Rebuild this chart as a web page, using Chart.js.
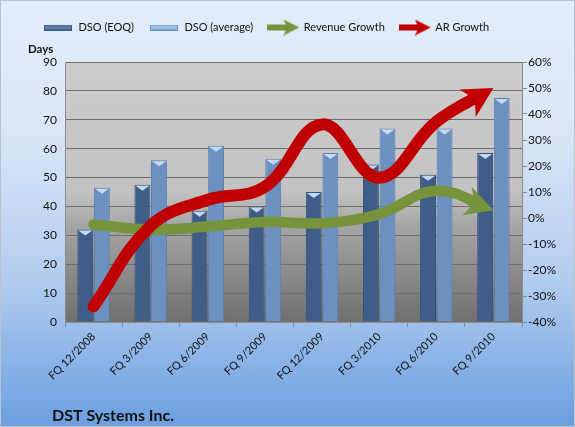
<!DOCTYPE html>
<html>
<head>
<meta charset="utf-8">
<script src="https://cdn.jsdelivr.net/npm/chart.js@4.4.0/dist/chart.umd.min.js"></script>
<style>
  html, body { margin: 0; padding: 0; }
  #quadro {
    width: 575px; height: 427px; box-sizing: border-box;
    border: 1px solid #b9c3d0;
    background: linear-gradient(#e3ecf9 0%, #dbe6f7 30%, #b3cdef 65%, #6b9fe0 100%);
  }
</style>
</head>
<body>
<div id="quadro"><canvas id="grafico-dso"></canvas></div>
<script>
// Dados (DSO em dias, crescimento em %)
const trimestres = ["FQ 12/2008", "FQ 3/2009", "FQ 6/2009", "FQ 9/2009",
                    "FQ 12/2009", "FQ 3/2010", "FQ 6/2010", "FQ 9/2010"];
const dsoEoq = [32, 47.5, 38.5, 40, 45, 54.5, 51, 58.5];
const dsoMedia = [46.5, 56, 61, 56.5, 58.5, 67, 67, 77.5];
const crescReceita = [-2.5, -4.5, -3.3, -1.5, -2, 1.5, 10.5, 3];
const crescAR = [-34, -3, 7, 12, 36, 15.5, 37, 50];
const eixoDias = [0, 90, 10];      // min, max, passo
const eixoPct = [-40, 60, 10];

const fonte = "Lato, 'Liberation Sans', sans-serif";

// marcadores da legenda (desenhados num canvas pequeno)
function marcaBarra(cor, borda) {
  const c = document.createElement("canvas");
  c.width = 28; c.height = 6;
  const g = c.getContext("2d");
  g.fillStyle = cor; g.fillRect(0, 0, 28, 6);
  g.strokeStyle = borda; g.strokeRect(0.5, 0.5, 27, 5);
  return c;
}
function marcaSeta(cor) {
  const c = document.createElement("canvas");
  c.width = 32; c.height = 16;
  const g = c.getContext("2d");
  g.fillStyle = cor;
  g.fillRect(0, 5, 20, 6);
  g.beginPath();
  g.moveTo(32, 8); g.lineTo(16, 0); g.lineTo(20, 8); g.lineTo(16, 16);
  g.closePath(); g.fill();
  return c;
}

// ponta de seta no fim da linha
function geoSeta(chart, i) {
  const ds = chart.data.datasets[i];
  const pts = chart.getDatasetMeta(i).data;
  const p = pts[pts.length - 1];
  let ax = p.cp1x, ay = p.cp1y;
  if (ax === undefined || (ax === p.x && ay === p.y)) { ax = pts[pts.length - 2].x; ay = pts[pts.length - 2].y; }
  let dx = p.x - ax, dy = p.y - ay;
  const len = Math.hypot(dx, dy) || 1;
  dx /= len; dy /= len;
  return { p, dx, dy, L: ds.seta.comp, W: ds.seta.larg };
}

const pluginSeta = {
  id: "seta",
  beforeDatasetDraw(chart, args) {
    const ds = chart.data.datasets[args.index];
    if (!ds.seta) return;
    const s = geoSeta(chart, args.index);
    const qx = s.p.x - s.dx * s.L * 0.6, qy = s.p.y - s.dy * s.L * 0.6;
    const nx = -s.dy, ny = s.dx, B = 3000;
    const ctx = chart.ctx;
    ctx.save();
    ctx.beginPath();
    ctx.moveTo(qx + nx * B, qy + ny * B);
    ctx.lineTo(qx - nx * B, qy - ny * B);
    ctx.lineTo(qx - nx * B - s.dx * B, qy - ny * B - s.dy * B);
    ctx.lineTo(qx + nx * B - s.dx * B, qy + ny * B - s.dy * B);
    ctx.closePath();
    ctx.clip();
  },
  afterDatasetDraw(chart, args) {
    const ds = chart.data.datasets[args.index];
    if (!ds.seta) return;
    const ctx = chart.ctx;
    ctx.restore();
    const s = geoSeta(chart, args.index);
    const nx = -s.dy, ny = s.dx;
    const bx = s.p.x - s.dx * s.L, by = s.p.y - s.dy * s.L;
    const mx = s.p.x - s.dx * s.L * 0.72, my = s.p.y - s.dy * s.L * 0.72;
    ctx.save();
    ctx.fillStyle = ds.borderColor;
    ctx.beginPath();
    ctx.moveTo(s.p.x, s.p.y);
    ctx.lineTo(bx + nx * s.W / 2, by + ny * s.W / 2);
    ctx.lineTo(mx, my);
    ctx.lineTo(bx - nx * s.W / 2, by - ny * s.W / 2);
    ctx.closePath();
    ctx.fill();
    ctx.restore();
  }
};

// fundo da área do gráfico, topo das barras e textos extras
const pluginFundo = {
  id: "fundo",
  afterInit(chart) {
    // espaço extra entre a legenda e a área do gráfico
    const leg = chart.legend;
    const fitOrig = leg.fit;
    leg.fit = function () { fitOrig.call(this); this.height += 19; };
  },
  beforeDraw(chart) {
    const a = chart.chartArea, ctx = chart.ctx;
    const g = ctx.createLinearGradient(0, a.top, 0, a.bottom);
    g.addColorStop(0, "#cdcdcd");
    g.addColorStop(0.5, "#c2c2c2");
    g.addColorStop(0.62, "#a7a7a7");
    g.addColorStop(1, "#6f6f6f");
    ctx.save();
    ctx.fillStyle = g;
    ctx.fillRect(a.left, a.top, a.right - a.left, a.bottom - a.top);
    ctx.restore();
    // legenda um pouco à esquerda, como no original
    chart.legend.right = chart.legend.left + 530;
  },
  afterDatasetDraw(chart, args) {
    const ds = chart.data.datasets[args.index];
    if (ds.type === "line") return;
    const ctx = chart.ctx;
    ctx.save();
    ctx.fillStyle = "#c4daf2";
    chart.getDatasetMeta(args.index).data.forEach(b => {
      const h = b.width / 2;
      ctx.beginPath();
      ctx.moveTo(b.x - h + 1, b.y + 1);
      ctx.lineTo(b.x + h - 1, b.y + 1);
      ctx.lineTo(b.x, b.y + 6);
      ctx.closePath();
      ctx.fill();
    });
    ctx.restore();
  },
  afterDraw(chart) {
    const ctx = chart.ctx;
    ctx.save();
    ctx.fillStyle = "#111";
    ctx.font = "bold 11.5px " + fonte;
    ctx.fillText("Days", 27, 48);
    ctx.font = "bold 16px " + fonte;
    ctx.fillText("DST Systems Inc.", 51, 415);
    ctx.restore();
  }
};

const ctx = document.getElementById("grafico-dso").getContext("2d");

const graficoDso = new Chart(ctx, {
  data: {
    labels: trimestres,
    datasets: [
      {
        type: "bar", label: "DSO (EOQ)", data: dsoEoq, yAxisID: "y",
        backgroundColor: "#3f5d87", borderColor: "#34507a", borderWidth: 1,
        categoryPercentage: 0.58, barPercentage: 0.96, order: 2,
        pointStyle: marcaBarra("#5b7aa6", "#3e5b85")
      },
      {
        type: "bar", label: "DSO (average)", data: dsoMedia, yAxisID: "y",
        backgroundColor: "#6c91c1", borderColor: "#5a7fb0", borderWidth: 1,
        categoryPercentage: 0.58, barPercentage: 0.96, order: 3,
        pointStyle: marcaBarra("#9dc0ea", "#6a8fc0")
      },
      {
        type: "line", label: "Revenue Growth", data: crescReceita, yAxisID: "y1",
        borderColor: "#77933c", borderWidth: 10.5, tension: 0.4, pointRadius: 0,
        borderCapStyle: "round", order: 1, seta: { comp: 28, larg: 30 },
        pointStyle: marcaSeta("#77933c")
      },
      {
        type: "line", label: "AR Growth", data: crescAR, yAxisID: "y1",
        borderColor: "#c00000", borderWidth: 12, tension: 0.4, pointRadius: 0,
        borderCapStyle: "round", order: 0, seta: { comp: 30, larg: 32 },
        pointStyle: marcaSeta("#c00000")
      }
    ]
  },
  options: {
    responsive: true,
    maintainAspectRatio: false,
    animation: false,
    layout: { padding: { top: 6, left: 0, right: 0, bottom: 0 } },
    plugins: {
      legend: {
        position: "top",
        labels: {
          usePointStyle: true,
          pointStyleWidth: 30,
          padding: 15,
          color: "#111",
          font: { family: fonte, size: 11 },
          sort: (a, b) => a.datasetIndex - b.datasetIndex
        }
      },
      tooltip: { enabled: false }
    },
    scales: {
      x: {
        offset: true,
        grid: { offset: true, drawOnChartArea: false, color: "#8c8c8c", tickLength: 5 },
        border: { color: "#8c8c8c" },
        ticks: { minRotation: 45, maxRotation: 45, color: "#111", font: { family: fonte, size: 11 } },
        afterFit: s => { s.height = 104; }
      },
      y: {
        position: "left",
        min: eixoDias[0], max: eixoDias[1],
        ticks: { stepSize: eixoDias[2], padding: 8, color: "#111", font: { family: fonte, size: 12 } },
        grid: { color: "#6e6e6e", tickLength: 0 },
        border: { color: "#8c8c8c" },
        afterFit: s => { s.width = 64; }
      },
      y1: {
        position: "right",
        min: eixoPct[0], max: eixoPct[1],
        ticks: { stepSize: eixoPct[2], padding: 1, color: "#111", font: { family: fonte, size: 12 },
                 callback: v => v + "%" },
        grid: { drawOnChartArea: false, color: "#8c8c8c", tickLength: 5 },
        border: { color: "#8c8c8c" },
        afterFit: s => { s.width = 52; }
      }
    }
  },
  plugins: [pluginFundo, pluginSeta]
});
</script>
</body>
</html>
